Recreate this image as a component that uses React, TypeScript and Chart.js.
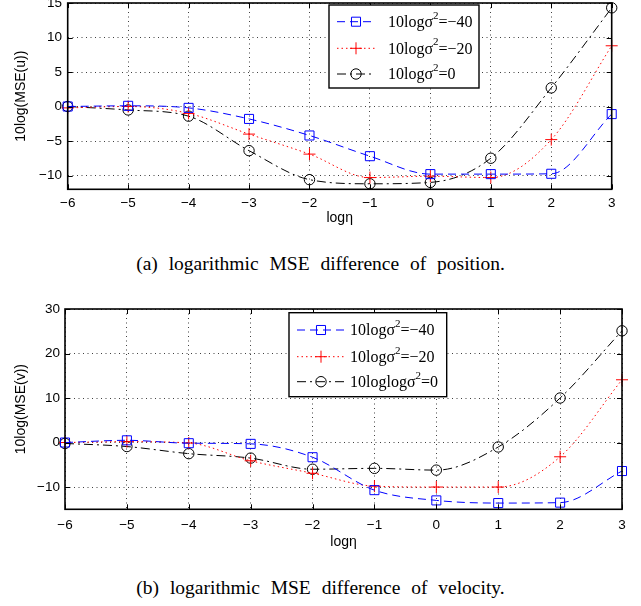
import React, { useEffect, useRef } from 'react';
import { Chart, registerables } from 'chart.js';
Chart.register(...registerables);

// ---------- data ----------
const logEta = [-6, -5, -4, -3, -2, -1, 0, 1, 2, 3];

const posSigmaM40 = [0, 0.1, -0.2, -1.8, -4.2, -7.2, -9.8, -9.8, -9.75, -1.1];
const posSigmaM20 = [-0.2, 0, -1.0, -4.0, -6.9, -10.3, -10.1, -10.3, -4.8, 8.8];
const posSigma0 = [0, -0.5, -1.4, -6.4, -10.6, -11.2, -11.0, -7.5, 2.7, 14.3];

const velSigmaM40 = [0, 0.5, -0.15, -0.3, -3.3, -10.7, -13.0, -13.6, -13.5, -6.4];
const velSigmaM20 = [0, 0.2, -0.1, -4.1, -6.9, -9.8, -10.0, -10.0, -3.2, 14.1];
const velSigma0 = [-0.2, -0.9, -2.5, -3.5, -6.0, -5.8, -6.2, -1.0, 10.0, 25.1];

const posLabels = ['10logσ|2|=−40', '10logσ|2|=−20', '10logσ|2|=0'];
const velLabels = ['10logσ|2|=−40', '10logσ|2|=−20', '10loglogσ|2|=0'];

const xTitle = 'logη';
const posYTitle = '10log(MSE(u))';
const velYTitle = '10log(MSE(v))';
const captionA = '(a) logarithmic MSE difference of position.';
const captionB = '(b) logarithmic MSE difference of velocity.';

// ---------- styles ----------
const seriesStyles = [
  { color: '#0000ff', dash: [8, 5], point: 'rect', radius: 6.4 },
  { color: '#ff0000', dash: [1.5, 3], point: 'cross', radius: 6 },
  { color: '#000000', dash: [9, 4, 2, 4], point: 'circle', radius: 5.2 },
];

const SANS = '"Liberation Sans", Arial, Helvetica, sans-serif';
const SERIF = '"Liberation Serif", "Times New Roman", serif';

const fmt = (v: number | string) => String(v).replace('-', '\u2212');

type PanelProps = {
  top: number;
  height: number;
  area: { left: number; right: number; top: number; bottom: number };
  yMin: number;
  yMax: number;
  yStep: number;
  series: number[][];
  labels: string[];
  yTitle: string;
  xTickPad: number;
  yTickPad: number;
  xTitleY: number;
  legend: { x: number; y: number; w: number; h: number; rows: number[]; lineX0: number; lineX1: number; textX: number };
};

function drawMarker(ctx: CanvasRenderingContext2D, kind: string, x: number, y: number, r: number, color: string) {
  ctx.save();
  ctx.setLineDash([]);
  ctx.strokeStyle = color;
  ctx.lineWidth = 1;
  ctx.beginPath();
  if (kind === 'rect') {
    const s = Math.SQRT1_2 * r;
    ctx.rect(x - s, y - s, 2 * s, 2 * s);
  } else if (kind === 'cross') {
    ctx.moveTo(x - r, y);
    ctx.lineTo(x + r, y);
    ctx.moveTo(x, y - r);
    ctx.lineTo(x, y + r);
  } else {
    ctx.arc(x, y, r, 0, Math.PI * 2);
  }
  ctx.stroke();
  ctx.restore();
}

function drawLabel(ctx: CanvasRenderingContext2D, label: string, x: number, y: number) {
  const parts = label.split('|');
  ctx.save();
  ctx.fillStyle = '#000';
  ctx.textBaseline = 'middle';
  ctx.textAlign = 'left';
  let cx = x;
  parts.forEach((p, i) => {
    if (i === 1) {
      ctx.font = `11px ${SERIF}`;
      ctx.fillText(p, cx, y - 6);
      cx += ctx.measureText(p).width;
    } else {
      ctx.font = `16px ${SERIF}`;
      ctx.fillText(p, cx, y + 1);
      cx += ctx.measureText(p).width;
    }
  });
  ctx.restore();
}

function Panel(props: PanelProps) {
  const ref = useRef<HTMLCanvasElement | null>(null);
  useEffect(() => {
    const canvas = ref.current!;
    const W = 641;
    const H = props.height;
    const a = props.area;

    const framePlugin = {
      id: 'frameTicks',
      afterDatasetsDraw(chart: any) {
        const ctx = chart.ctx as CanvasRenderingContext2D;
        const ca = chart.chartArea;
        const xs = chart.scales.x;
        const ys = chart.scales.y;
        ctx.save();
        ctx.setLineDash([]);
        ctx.strokeStyle = '#000';
        ctx.lineWidth = 1;
        const tl = 5;
        xs.ticks.forEach((t: any) => {
          const px = Math.round(xs.getPixelForValue(t.value)) + 0.5;
          ctx.beginPath();
          ctx.moveTo(px, ca.bottom);
          ctx.lineTo(px, ca.bottom - tl);
          ctx.moveTo(px, ca.top);
          ctx.lineTo(px, ca.top + tl);
          ctx.stroke();
        });
        ys.ticks.forEach((t: any) => {
          const py = Math.round(ys.getPixelForValue(t.value)) + 0.5;
          ctx.beginPath();
          ctx.moveTo(ca.left, py);
          ctx.lineTo(ca.left + tl, py);
          ctx.moveTo(ca.right, py);
          ctx.lineTo(ca.right - tl, py);
          ctx.stroke();
        });
        ctx.lineWidth = 1.6;
        ctx.strokeRect(ca.left, ca.top, ca.right - ca.left, ca.bottom - ca.top);
        ctx.restore();
      },
      afterDraw(chart: any) {
        const ctx = chart.ctx as CanvasRenderingContext2D;
        const ca = chart.chartArea;
        const lg = props.legend;
        // legend
        ctx.save();
        ctx.fillStyle = '#fff';
        ctx.fillRect(lg.x, lg.y, lg.w, lg.h);
        ctx.strokeStyle = '#000';
        ctx.lineWidth = 1.4;
        ctx.setLineDash([]);
        ctx.strokeRect(lg.x, lg.y, lg.w, lg.h);
        props.labels.forEach((lab, i) => {
          const st = seriesStyles[i];
          const ry = lg.rows[i];
          ctx.save();
          ctx.strokeStyle = st.color;
          ctx.lineWidth = 1;
          ctx.setLineDash(st.dash);
          ctx.beginPath();
          ctx.moveTo(lg.lineX0, ry);
          ctx.lineTo(lg.lineX1, ry);
          ctx.stroke();
          ctx.restore();
          drawMarker(ctx, st.point, (lg.lineX0 + lg.lineX1) / 2, ry, st.radius, st.color);
          drawLabel(ctx, lab, lg.textX, ry);
        });
        ctx.restore();
        // axis titles
        ctx.save();
        ctx.fillStyle = '#000';
        ctx.font = `14px ${SANS}`;
        ctx.textAlign = 'center';
        ctx.textBaseline = 'middle';
        ctx.fillText(xTitle, (ca.left + ca.right) / 2, props.xTitleY);
        ctx.translate(21, (ca.top + ca.bottom) / 2);
        ctx.rotate(-Math.PI / 2);
        ctx.fillText(props.yTitle, 0, 0);
        ctx.restore();
      },
    };

    const chart = new Chart(canvas, {
      type: 'line',
      data: {
        datasets: props.series.map((vals, i) => {
          const st = seriesStyles[i];
          return {
            label: props.labels[i],
            data: logEta.map((x, k) => ({ x, y: vals[k] })),
            borderColor: st.color,
            borderWidth: 1,
            borderDash: st.dash,
            pointStyle: st.point as any,
            pointRadius: st.radius,
            pointBorderColor: st.color,
            pointBackgroundColor: 'rgba(0,0,0,0)',
            pointBorderWidth: 1,
            cubicInterpolationMode: 'monotone' as const,
            fill: false,
            clip: false as any,
          };
        }),
      },
      options: {
        responsive: false,
        animation: false,
        devicePixelRatio: 1,
        layout: { padding: { left: 0, right: W - a.right, top: a.top, bottom: 0 } },
        plugins: { legend: { display: false }, tooltip: { enabled: false } },
        scales: {
          x: {
            type: 'linear',
            min: -6,
            max: 3,
            afterFit: (s: any) => { s.height = H - a.bottom; },
            ticks: {
              stepSize: 1,
              padding: props.xTickPad,
              color: '#000',
              font: { family: SANS, size: 13.5 },
              callback: (v: any) => fmt(v),
              maxRotation: 0,
            },
            grid: { color: 'rgba(0,0,0,0.75)', lineWidth: 1, drawTicks: false },
            border: { display: false, dash: [1, 3.5] },
          },
          y: {
            type: 'linear',
            min: props.yMin,
            max: props.yMax,
            afterFit: (s: any) => { s.width = a.left; },
            ticks: {
              stepSize: props.yStep,
              includeBounds: false,
              padding: props.yTickPad,
              color: '#000',
              font: { family: SANS, size: 13.5 },
              callback: (v: any) => fmt(v),
            },
            grid: { color: 'rgba(0,0,0,0.75)', lineWidth: 1, drawTicks: false },
            border: { display: false, dash: [1, 3.5] },
          },
        },
      },
      plugins: [framePlugin],
    });
    return () => chart.destroy();
  }, []);
  return (
    <canvas
      ref={ref}
      width={641}
      height={props.height}
      style={{ position: 'absolute', left: 0, top: props.top, width: 641, height: props.height }}
    />
  );
}

export default function App() {
  const captionStyle: React.CSSProperties = {
    position: 'absolute',
    left: 0,
    width: 641,
    textAlign: 'center',
    fontFamily: SERIF,
    fontSize: 19.5,
    lineHeight: '22px',
    color: '#000',
    wordSpacing: 6,
    whiteSpace: 'nowrap',
  };
  return (
    <div style={{ position: 'absolute', left: 0, top: 0, width: 641, height: 606, overflow: 'hidden', background: '#fff' }}>
      <Panel
        top={-12}
        height={252}
        area={{ left: 67.7, right: 611.7, top: 15, bottom: 201.3 }}
        yMin={-12}
        yMax={15}
        yStep={5}
        series={[posSigmaM40, posSigmaM20, posSigma0]}
        labels={posLabels}
        yTitle={posYTitle}
        xTickPad={5.5}
        yTickPad={5.7}
        xTitleY={229.7}
        legend={{ x: 329, y: 17, w: 150, h: 83, rows: [33.7, 60.3, 86], lineX0: 337, lineX1: 375, textX: 388 }}
      />
      <div style={{ ...captionStyle, top: 253 }}>{captionA}</div>
      <Panel
        top={290}
        height={270}
        area={{ left: 65, right: 622, top: 19, bottom: 219.3 }}
        yMin={-15}
        yMax={30}
        yStep={10}
        series={[velSigmaM40, velSigmaM20, velSigma0]}
        labels={velLabels}
        yTitle={velYTitle}
        xTickPad={8}
        yTickPad={5}
        xTitleY={252}
        legend={{ x: 289, y: 22.7, w: 157.7, h: 84, rows: [40, 66.7, 91.7], lineX0: 297, lineX1: 345, textX: 350 }}
      />
      <div style={{ ...captionStyle, top: 577 }}>{captionB}</div>
    </div>
  );
}
